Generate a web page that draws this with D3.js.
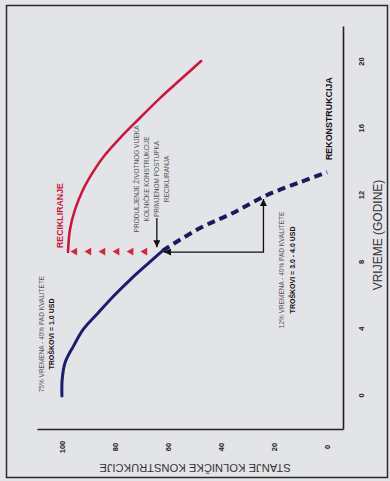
<!DOCTYPE html>
<html>
<head>
<meta charset="utf-8">
<script src="https://cdn.jsdelivr.net/npm/d3@7"></script>
<style>
  html, body { margin: 0; padding: 0; background: #e3e4e8; }
  svg { display: block; font-family: "Liberation Sans", Arial, sans-serif; }
</style>
</head>
<body>
<svg id="chart" width="390" height="481"></svg>
<script>
// Axis ticks
const yearTicks = [0, 4, 8, 12, 16, 20];
const conditionTicks = [0, 20, 40, 60, 80, 100];

// Pavement condition without intervention (solid part)
const baseYears     = [0, 1, 2, 3, 4, 5, 6, 7, 8, 8.7];
const baseCondition = [100, 99.9, 98.8, 95.6, 91.9, 86.2, 80.4, 74.0, 67.0, 62];

// Continued deterioration until reconstruction (dashed part)
const reconYears     = [8.7, 10.06, 10.96, 12.04, 12.8, 13.4];
const reconCondition = [62, 47.9, 35.5, 22.6, 10.2, 0];

// Condition after recycling
const recycleYears     = [8.62, 9.94, 11.14, 12.34, 13.41, 14.43, 15.45, 16.65, 17.84, 18.92, 20.06];
const recycleCondition = [97.7, 97.0, 95.1, 92.1, 88.3, 83.8, 78.1, 70.6, 63.0, 55.5, 47.5];

// Upward markers showing the condition jump at recycling time
const liftYear = 8.65;
const liftCondition = [95.1, 89.8, 84.5, 79.2, 73.9, 68.7];

const W = 390, H = 481;
const svg = d3.select("#chart");

svg.append("rect").attr("width", W).attr("height", H).attr("fill", "#e3e4e8");
svg.append("rect")
  .attr("x", 6.5).attr("y", 5.5).attr("width", 381).attr("height", 472)
  .attr("fill", "none").attr("stroke", "#2a2a2a").attr("stroke-width", 1.5);

// The chart is laid out in landscape and turned a quarter turn counter-clockwise
const g = svg.append("g").attr("transform", `translate(0,${H}) rotate(-90)`);

const x = d3.scaleLinear().domain([-2.04, 22.1]).range([51, 454]);
const y = d3.scaleLinear().domain([-6, 109.4]).range([343, 37]);

const defs = svg.append("defs");
defs.append("marker")
  .attr("id", "head")
  .attr("viewBox", "0 0 10 10")
  .attr("refX", 10).attr("refY", 5)
  .attr("markerUnits", "userSpaceOnUse")
  .attr("markerWidth", 7).attr("markerHeight", 7)
  .attr("orient", "auto-start-reverse")
  .append("path").attr("d", "M0,0 L10,5 L0,10 Z").attr("fill", "#111");

// Axes
const xAxis = g.append("g")
  .attr("transform", `translate(0,${y(-6)})`)
  .call(d3.axisBottom(x).tickValues(yearTicks).tickSize(0).tickSizeOuter(0).tickPadding(16));
const yAxis = g.append("g")
  .attr("transform", `translate(${x(-2.04)},0)`)
  .call(d3.axisLeft(y).tickValues(conditionTicks).tickSize(0).tickSizeOuter(0));

[xAxis, yAxis].forEach(a => {
  a.select(".domain").attr("stroke", "#222").attr("stroke-width", 1.6);
  a.selectAll("text")
    .attr("font-family", "Liberation Sans, Arial, sans-serif")
    .attr("font-size", 7.5).attr("font-weight", "bold").attr("fill", "#222");
});
yAxis.selectAll(".tick text").attr("text-anchor", "middle").attr("x", -17).attr("dy", "0.35em");

// Axis titles
g.append("text")
  .attr("x", 246).attr("y", 378).attr("dy", "0.35em")
  .attr("text-anchor", "middle").attr("font-size", 12).attr("fill", "#333")
  .text("VRIJEME (GODINE)");
g.append("text")
  .attr("transform", "translate(13,195) rotate(-90)")
  .attr("dy", "0.35em").attr("text-anchor", "middle")
  .attr("font-size", 11.2).attr("fill", "#333")
  .text("STANJE KOLNIČKE KONSTRUKCIJE");

// Curves
const toPts = (xs, ys) => xs.map((t, i) => [t, ys[i]]);
const line = d3.line().x(d => x(d[0])).y(d => y(d[1])).curve(d3.curveCatmullRom.alpha(0.5));

g.append("path").datum(toPts(reconYears, reconCondition))
  .attr("d", line).attr("fill", "none")
  .attr("stroke", "#1b1b5c").attr("stroke-width", 4).attr("stroke-dasharray", "8,5");

g.append("path").datum(toPts(baseYears, baseCondition))
  .attr("d", line).attr("fill", "none")
  .attr("stroke", "#1d1d6e").attr("stroke-width", 3).attr("stroke-linecap", "round");

g.append("path").datum(toPts(recycleYears, recycleCondition))
  .attr("d", line).attr("fill", "none")
  .attr("stroke", "#c8193c").attr("stroke-width", 2.6).attr("stroke-linecap", "round");

g.selectAll(".lift").data(liftCondition).join("path")
  .attr("class", "lift")
  .attr("transform", c => `translate(${x(liftYear)},${y(c)})`)
  .attr("d", d3.symbol(d3.symbolTriangle, 26))
  .attr("fill", "#d0263f");

// Elbow connector between reconstruction and recycling time
const corner = [8.62, 24];
g.append("path")
  .attr("d", `M${x(11.8)},${y(corner[1])} L${x(corner[0])},${y(corner[1])} L${x(corner[0])},${y(61.5)}`)
  .attr("fill", "none").attr("stroke", "#111").attr("stroke-width", 1.3)
  .attr("marker-start", "url(#head)").attr("marker-end", "url(#head)");

// Text annotations
const note = (t, c, txt, opts = {}) => g.append("text")
  .attr("x", x(t)).attr("y", y(c)).attr("dy", "0.35em")
  .attr("text-anchor", opts.anchor || "middle")
  .attr("font-size", opts.size || 6.5)
  .attr("font-weight", opts.bold ? "bold" : "normal")
  .attr("fill", opts.fill || "#555")
  .text(txt);

note(3.71, 107.5, "75% VREMENA - 40% PAD KVALITETE");
note(3.71, 103.8, "TROŠKOVI = 1.0 USD", { bold: true, size: 7, fill: "#111" });

note(7.55, 17, "12% VREMENA - 40% PAD KVALITETE");
note(7.55, 13.2, "TROŠKOVI = 3.0 - 4.0 USD", { bold: true, size: 7, fill: "#111" });

note(8.86, 100.8, "RECIKLIRANJE", { anchor: "start", bold: true, size: 8.8, fill: "#c8193c" });
note(14.13, -0.75, "REKONSTRUKCIJA", { anchor: "start", bold: true, size: 8.9, fill: "#111" });

const extLines = ["PRODULJENJE ŽIVOTNOG VIJEKA", "KOLNIČKE KONSTRUKCIJE", "PRIMJENOM POSTUPKA", "RECIKLIRANJA"];
const extCond = [71.7, 67.9, 64.2, 60.4];
const extTexts = extLines.map((s, i) => note(13.0, extCond[i], s));
const leftEdge = x(13.0) - extTexts[2].node().getComputedTextLength() / 2;
g.append("path")
  .attr("d", `M${leftEdge - 1},${y(extCond[2])} L${x(8.9)},${y(extCond[2])}`)
  .attr("stroke", "#111").attr("stroke-width", 1.3)
  .attr("marker-end", "url(#head)");
</script>
</body>
</html>
